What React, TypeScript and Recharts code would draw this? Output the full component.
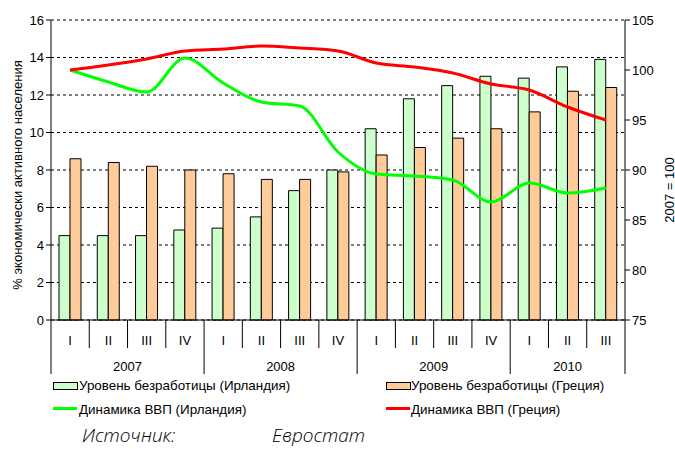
import React from 'react';
import { ComposedChart, Bar, Line, XAxis, YAxis, CartesianGrid } from 'recharts';

const quarters = ['I', 'II', 'III', 'IV', 'I', 'II', 'III', 'IV', 'I', 'II', 'III', 'IV', 'I', 'II', 'III'];
const years = ['2007', '2008', '2009', '2010'];
const quartersPerYear = [4, 4, 4, 3];
const unempIreland = [4.5, 4.5, 4.5, 4.8, 4.9, 5.5, 6.9, 8.0, 10.2, 11.8, 12.5, 13.0, 12.9, 13.5, 13.9];
const unempGreece = [8.6, 8.4, 8.2, 8.0, 7.8, 7.5, 7.5, 7.9, 8.8, 9.2, 9.7, 10.2, 11.1, 12.2, 12.4];
const gdpIreland = [100, 98.8, 97.8, 101.2, 98.7, 96.8, 96.4, 91.8, 89.6, 89.4, 89.0, 86.8, 88.7, 87.7, 88.2];
const gdpGreece = [100, 100.5, 101.1, 101.9, 102.1, 102.4, 102.2, 101.9, 100.7, 100.3, 99.7, 98.6, 98.0, 96.3, 95.0];
const leftTicks = [0, 2, 4, 6, 8, 10, 12, 14, 16];
const rightTicks = [75, 80, 85, 90, 95, 100, 105];

const data = quarters.map((q, i) => ({
  key: `${i}`,
  q,
  ui: unempIreland[i],
  ug: unempGreece[i],
  gi: gdpIreland[i],
  gg: gdpGreece[i],
}));

const groupStarts: { start: number; count: number; label: string }[] = [];
{
  let s = 0;
  years.forEach((y, i) => {
    groupStarts.push({ start: s, count: quartersPerYear[i], label: y });
    s += quartersPerYear[i];
  });
}

const W = 675;
const H = 449;
const LEFT_W = 51;
const RIGHT_W = 50;
const PLOT_W = W - LEFT_W - RIGHT_W;
const BAND = PLOT_W / quarters.length;
const FONT = '"Liberation Sans", Arial, sans-serif';

const QuarterTick = (props: any) => {
  const { x, y, payload, index } = props;
  const i = typeof index === 'number' ? index : payload.index;
  const left = x - BAND / 2;
  const right = x + BAND / 2;
  const group = groupStarts.find((g) => g.start === i);
  const isLast = i === quarters.length - 1;
  return (
    <g>
      <line x1={left} x2={left} y1={y} y2={y + (group ? 54 : 28)} stroke="#000" strokeWidth={1} />
      {isLast && <line x1={right} x2={right} y1={y} y2={y + 54} stroke="#000" strokeWidth={1} />}
      <text x={x} y={y + 25} textAnchor="middle" fontSize={13} fontFamily={FONT} fill="#000">
        {quarters[i]}
      </text>
      {group && (
        <text x={left + (group.count * BAND) / 2} y={y + 51} textAnchor="middle" fontSize={13} fontFamily={FONT} fill="#000">
          {group.label}
        </text>
      )}
    </g>
  );
};

const LeftLabel = (props: any) => {
  const vb = props.viewBox || { x: 0, y: 20, width: 51, height: 300 };
  const cx = 17;
  const cy = vb.y + vb.height / 2 + 5;
  return (
    <text x={cx} y={cy} transform={`rotate(-90 ${cx} ${cy})`} textAnchor="middle" dominantBaseline="central" fontSize={13} fontFamily={FONT} fill="#000">
      % экономически активного населения
    </text>
  );
};

const RightLabel = (props: any) => {
  const vb = props.viewBox || { x: 625, y: 20, width: 50, height: 300 };
  const cx = 669;
  const cy = vb.y + vb.height / 2 + 20;
  return (
    <text x={cx} y={cy} transform={`rotate(-90 ${cx} ${cy})`} textAnchor="middle" dominantBaseline="central" fontSize={13} fontFamily={FONT} fill="#000">
      2007 = 100
    </text>
  );
};

const legendText: React.CSSProperties = { position: 'absolute', fontFamily: FONT, fontSize: 13.4, color: '#000', whiteSpace: 'nowrap', lineHeight: '16px' };
const sourceText: React.CSSProperties = { position: 'absolute', top: 422, fontFamily: '"Open Sans", sans-serif', fontStyle: 'italic', fontWeight: 300, fontSize: 19, lineHeight: 'normal', color: '#000', whiteSpace: 'nowrap' };

export default function App() {
  return (
    <div style={{ position: 'absolute', left: 0, top: 0, width: W, height: H, background: '#fff', overflow: 'hidden' }}>
      <ComposedChart
        width={W}
        height={H}
        data={data}
        margin={{ top: 20, right: 0, bottom: 69, left: 0 }}
        barGap={0}
        barCategoryGap="21%"
      >
        <CartesianGrid vertical={false} stroke="#000" strokeDasharray="3 3" yAxisId="left" />
        <XAxis
          dataKey="key"
          height={60}
          interval={0}
          tickLine={false}
          tickSize={0}
          tickMargin={0}
          axisLine={{ stroke: '#000' }}
          tick={<QuarterTick />}
        />
        <YAxis
          yAxisId="left"
          orientation="left"
          width={LEFT_W}
          domain={[0, 16]}
          ticks={leftTicks}
          interval={0}
          axisLine={{ stroke: '#000' }}
          tickLine={{ stroke: '#000' }}
          tickSize={5}
          tick={{ fontSize: 13, fontFamily: FONT, fill: '#000' }}
          label={LeftLabel}
        />
        <YAxis
          yAxisId="right"
          orientation="right"
          width={RIGHT_W}
          domain={[75, 105]}
          ticks={rightTicks}
          interval={0}
          axisLine={{ stroke: '#000' }}
          tickLine={{ stroke: '#000' }}
          tickSize={5}
          tick={{ fontSize: 13, fontFamily: FONT, fill: '#000' }}
          label={RightLabel}
        />
        <Bar yAxisId="left" dataKey="ui" barSize={11} fill="#CCFFCC" stroke="#000" strokeWidth={1} isAnimationActive={false} />
        <Bar yAxisId="left" dataKey="ug" barSize={11} fill="#FFCC99" stroke="#000" strokeWidth={1} isAnimationActive={false} />
        <Line yAxisId="right" dataKey="gi" type="monotone" stroke="#00FF00" strokeWidth={3} dot={false} isAnimationActive={false} />
        <Line yAxisId="right" dataKey="gg" type="monotone" stroke="#FF0000" strokeWidth={3} dot={false} isAnimationActive={false} />
      </ComposedChart>

      <div style={{ position: 'absolute', left: 53, top: 382, width: 23, height: 6, background: '#CCFFCC', border: '1px solid #000' }} />
      <div style={{ ...legendText, left: 79, top: 378 }}>Уровень безработицы (Ирландия)</div>
      <div style={{ position: 'absolute', left: 386, top: 382, width: 23, height: 6, background: '#FFCC99', border: '1px solid #000' }} />
      <div style={{ ...legendText, left: 411, top: 378 }}>Уровень безработицы (Греция)</div>
      <div style={{ position: 'absolute', left: 53, top: 407, width: 24, height: 3, background: '#00FF00' }} />
      <div style={{ ...legendText, left: 79, top: 402 }}>Динамика ВВП (Ирландия)</div>
      <div style={{ position: 'absolute', left: 386, top: 407, width: 24, height: 3, background: '#FF0000' }} />
      <div style={{ ...legendText, left: 411, top: 402 }}>Динамика ВВП (Греция)</div>

      <div style={{ ...sourceText, left: 82 }}>Источник:</div>
      <div style={{ ...sourceText, left: 272 }}>Евростат</div>
    </div>
  );
}
